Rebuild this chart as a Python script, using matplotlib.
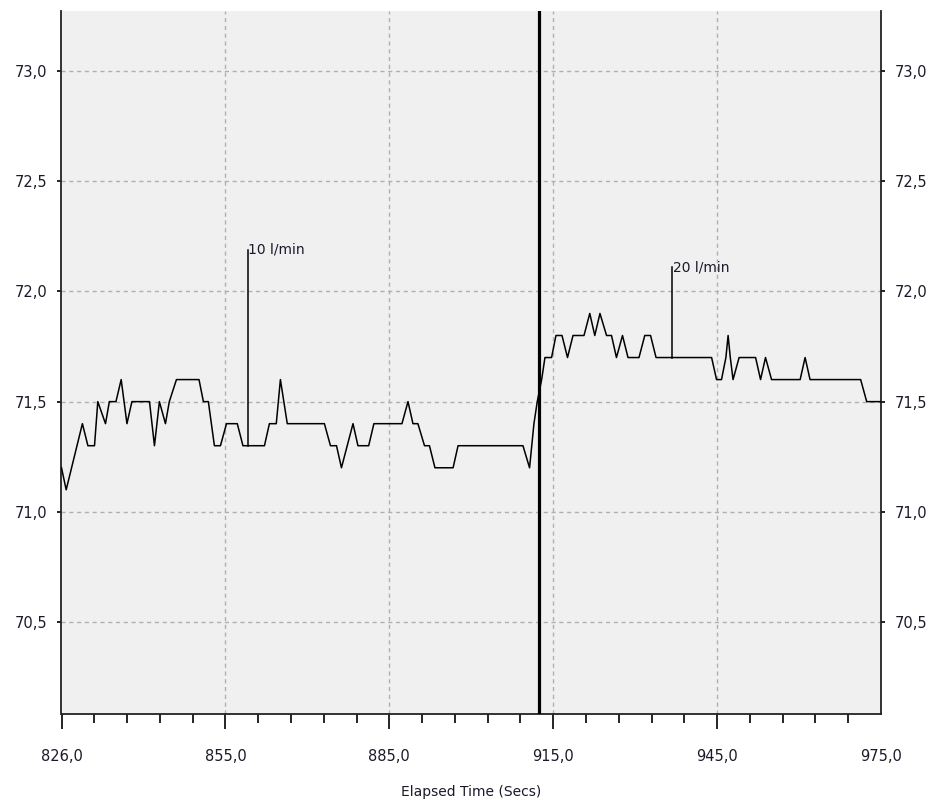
import matplotlib
matplotlib.use("Agg")
import matplotlib.pyplot as plt

# ---- data ----
time_s = [826.0, 826.85, 829.8, 830.8, 832.0, 832.6, 834.0, 834.7, 835.9, 836.85,
          837.9, 838.8, 842.0, 842.9, 843.8, 844.9, 845.6, 846.9, 851.0, 851.8,
          852.7, 853.8, 854.9, 856.0, 857.96, 858.99, 862.9, 863.8, 865.05, 865.8,
          867.05, 873.8, 874.9, 876.0, 876.9, 879.0, 879.9, 881.85, 882.8, 887.9,
          889.0, 889.9, 890.8, 892.0, 892.9, 893.9, 897.2, 898.1, 909.9, 911.1,
          911.9, 912.5, 913.3, 913.9, 915.1, 915.9, 917.0, 918.0, 919.0, 921.0,
          922.05, 922.96, 923.9, 925.1, 926.0, 926.9, 928.0, 929.0, 931.0, 932.05,
          933.1, 934.1, 944.2, 945.1, 946.0, 946.8, 947.2, 947.6, 948.1, 949.2,
          952.2, 953.1, 954.0, 955.1, 960.3, 961.2, 962.1, 971.3, 972.4, 975.0]
value = [71.2, 71.1, 71.4, 71.3, 71.3, 71.5, 71.4, 71.5, 71.5, 71.6,
         71.4, 71.5, 71.5, 71.3, 71.5, 71.4, 71.5, 71.6, 71.6, 71.5,
         71.5, 71.3, 71.3, 71.4, 71.4, 71.3, 71.3, 71.4, 71.4, 71.6,
         71.4, 71.4, 71.3, 71.3, 71.2, 71.4, 71.3, 71.3, 71.4, 71.4,
         71.5, 71.4, 71.4, 71.3, 71.3, 71.2, 71.2, 71.3, 71.3, 71.2,
         71.4, 71.5, 71.6, 71.7, 71.7, 71.8, 71.8, 71.7, 71.8, 71.8,
         71.9, 71.8, 71.9, 71.8, 71.8, 71.7, 71.8, 71.7, 71.7, 71.8,
         71.8, 71.7, 71.7, 71.6, 71.6, 71.7, 71.8, 71.7, 71.6, 71.7,
         71.7, 71.6, 71.7, 71.6, 71.6, 71.7, 71.6, 71.6, 71.5, 71.5]

cursor_time = 912.8

event_labels = ["10 l/min", "20 l/min"]
event_times = [859.9, 937.0]
event_bases = [71.3, 71.7]
event_tops = [72.19, 72.11]

x_tick_values = [826.0, 855.8, 885.6, 915.4, 945.2, 975.0]
x_tick_labels = ["826,0", "855,0", "885,0", "915,0", "945,0", "975,0"]
y_tick_values = [70.5, 71.0, 71.5, 72.0, 72.5, 73.0]
y_tick_labels = ["70,5", "71,0", "71,5", "72,0", "72,5", "73,0"]

# ---- figure ----
fig = plt.figure(figsize=(9.33, 8.05), dpi=100)
ax = fig.add_axes([61.5 / 933, 1 - 714 / 805, (881 - 61.5) / 933, (714 - 11) / 805])
ax.set_facecolor("#f0f0f0")

ax.set_xlim(826.0, 975.0)
ax.set_ylim(70.083, 73.272)

ax.plot(time_s, value, color="black", lw=1.1, zorder=3)
ax.axvline(cursor_time, color="black", lw=2.3, zorder=4)

for lab, t, b, top in zip(event_labels, event_times, event_bases, event_tops):
    ax.plot([t, t], [b, top], color="black", lw=1.1, zorder=3)
    ax.text(t + 0.1, top, lab, ha="left", va="center", fontsize=10,
            color="#1a1a2a", zorder=5)

grid_kw = dict(color="#b0b0b0", lw=1.0, linestyle=(0, (3, 2.6)), zorder=1)
for xv in x_tick_values[1:-1]:
    ax.axvline(xv, **grid_kw)
for yv in y_tick_values:
    ax.axhline(yv, **grid_kw)

ax.set_xticks(x_tick_values)
ax.set_xticklabels(x_tick_labels)
minor = []
for i in range(len(x_tick_values) - 1):
    a, b = x_tick_values[i], x_tick_values[i + 1]
    for k in range(1, 5):
        minor.append(a + (b - a) * k / 5)
ax.set_xticks(minor, minor=True)

ax.set_yticks(y_tick_values)
ax.set_yticklabels(y_tick_labels)

ax.tick_params(axis="x", which="major", length=11, width=1.2, direction="out",
               labelsize=10.5, labelcolor="#1a1a2a", pad=14)
ax.tick_params(axis="x", which="minor", length=6.5, width=1.2, direction="out")
ax.tick_params(axis="y", which="major", length=3, width=1.2, direction="out",
               left=True, right=True, labelleft=True, labelright=True,
               labelsize=10.5, labelcolor="#1a1a2a", pad=7)
xt = ax.xaxis.get_major_ticks()
xt[-1].tick1line.set_visible(False)

for side in ("left", "right", "bottom"):
    ax.spines[side].set_color("#222222")
    ax.spines[side].set_linewidth(1.3)
ax.spines["top"].set_visible(False)

ax.set_xlabel("Elapsed Time (Secs)", fontsize=10, color="#1a1a2a", labelpad=15)

fig.savefig("out.png", dpi=100, facecolor="white")
